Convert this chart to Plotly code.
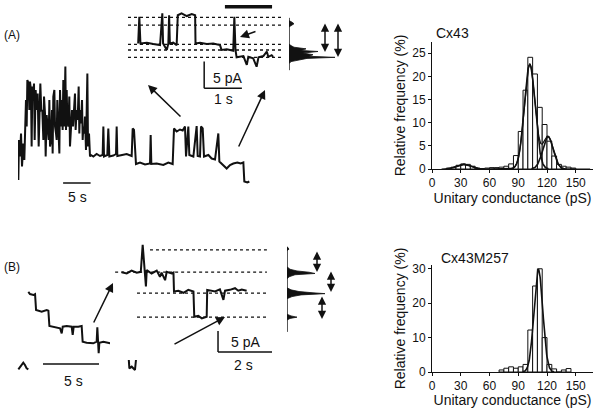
"""
Cx43 / Cx43M257 single-channel recordings and conductance histograms
"""
import numpy as np
import plotly.graph_objs as go

# ---- conductance histograms (bin centres in pS, % of events) ----
bins_cx43 = [17.5, 22.5, 27.5, 32.5, 37.5, 42.5, 47.5, 52.5, 57.5, 62.5, 67.5, 72.5, 77.5, 82.5,
             87.5, 92.5, 97.5, 102.5, 107.5, 112.5, 117.5, 122.5, 127.5, 132.5, 137.5, 142.5, 147.5]
freq_cx43 = [0.2, 0.4, 0.8, 1.1, 1.0, 0.6, 0.2, 0.1, 0.2, 0.3, 0.3, 0.4, 0.6, 1.1,
             2.9, 8.1, 17.0, 24.1, 20.5, 13.3, 9.6, 6.0, 2.8, 1.0, 0.6, 0.4, 0.2]
# gaussian fits: (amplitude %, centre pS, sigma pS)
fits_cx43 = [(1.0, 33, 7), (22.6, 102, 5.6), (7.0, 121, 5.5)]

bins_m257 = [72.5, 77.5, 82.5, 87.5, 92.5, 97.5, 102.5, 107.5, 112.5, 117.5, 122.5, 127.5, 132.5, 137.5, 142.5]
freq_m257 = [0.6, 1.1, 1.5, 1.1, 1.5, 2.2, 12.2, 25.0, 30.0, 10.0, 2.2, 0.9, 0.0, 0.6, 1.0]
fits_m257 = [(29.8, 111, 4.6)]

cond_ticks = [0, 30, 60, 90, 120, 150]

# ---- panel A, long recording (s, pA) ----
a_t = [0.06, 0.18, 0.36, 0.55, 0.73, 0.97, 1.15, 1.45, 1.58, 1.70, 1.94, 2.06, 2.18, 2.36, 2.48, 2.61,
       2.79, 2.91, 3.03, 3.21, 3.39, 3.58, 3.76, 3.88, 4.06, 4.24, 4.42, 4.61, 4.73, 4.91, 5.03, 5.21,
       5.39, 5.58, 5.70, 5.82, 6.00, 6.18, 6.30, 6.42, 6.61, 6.73, 6.91, 7.03, 7.15, 7.33, 7.52, 7.64,
       7.82, 7.94, 8.12, 8.24, 8.42, 8.61, 8.73, 8.85, 8.97, 9.15, 9.33, 9.45, 9.64, 9.82, 10.00, 10.18,
       10.36, 10.48, 10.67, 10.85, 11.03, 11.15, 11.27, 11.45, 11.64, 11.76, 11.88, 12.06, 12.18, 12.36,
       12.48, 12.61, 12.73, 12.91, 13.09, 13.27,
       13.70, 14.30, 14.91, 15.39, 15.52, 15.64, 16.24, 16.42, 16.61, 17.33, 17.82, 17.94, 18.06, 18.85,
       19.76, 20.67, 20.85, 21.09, 21.27, 21.45, 22.18, 23.09, 24.00, 24.12, 24.24, 25.21, 26.42, 27.33,
       28.12, 28.36, 28.85, 29.45, 29.94, 30.36, 30.55, 30.97, 31.15, 31.88, 32.48, 32.67, 33.09, 33.27,
       33.58, 33.82, 34.61, 35.21, 35.82, 36.42, 36.61, 37.33, 37.94, 38.55, 39.15, 39.88, 40.48, 40.97,
       41.15, 41.70, 42.06]
a_i = [2.0, 10.0, 6.7, 11.3, 4.7, 9.3, 6.0, 18.0, 12.7, 22.0, 21.3, 16.0, 21.7, 20.0, 8.7, 20.7,
       19.3, 21.3, 10.0, 20.0, 16.0, 19.3, 8.7, 15.3, 21.3, 15.7, 16.0, 10.0, 18.7, 15.3, 6.7, 15.0,
       11.3, 10.0, 18.0, 8.7, 10.0, 16.0, 7.3, 18.7, 20.0, 12.7, 11.3, 10.0, 18.0, 14.0, 7.3, 20.0,
       12.7, 18.0, 12.0, 22.0, 12.7, 24.7, 12.0, 20.0, 14.0, 12.7, 18.7, 8.7, 13.3, 16.0, 12.7, 16.7,
       19.3, 12.0, 16.0, 14.0, 20.7, 11.3, 16.0, 13.3, 18.0, 10.0, 12.7, 11.3, 14.7, 8.0,
       17.3, 23.3, 8.7, 11.3, 6.7, 7.0,
       6.7, 7.2, 6.8, 7.0, 12.7, 6.7, 7.0, 12.3, 6.7, 6.9, 7.2, 12.7, 6.8, 7.0,
       7.2, 6.8, 12.3, 12.0, 6.7, 5.2, 5.5, 5.1, 5.3, 11.0, 5.2, 5.3, 5.0, 5.5,
       5.2, 12.3, 11.7, 12.1, 11.9, 12.7, 6.7, 12.7, 7.0, 6.7, 12.8, 6.8, 6.7, 12.7,
       12.3, 6.7, 7.0, 6.3, 6.1, 11.3, 5.7, 5.0, 4.3, 5.0, 5.3, 5.5, 5.3, 5.5,
       1.7, 1.5, 1.7]

# ---- panel A, expanded segment (s, pA) ----
ai_t = [0.27, 0.30, 0.33, 0.50, 0.67, 0.85, 0.91, 0.93, 1.03, 1.07, 1.09, 1.11, 1.20, 1.29, 1.32, 1.42,
        1.56, 1.69, 1.78, 1.79, 1.91, 2.09, 2.26, 2.44, 2.48, 2.62, 2.79, 2.82, 2.85, 2.88, 3.06, 3.15,
        3.19, 3.32, 3.41, 3.46, 3.59, 3.68, 3.72, 3.81, 3.85]
ai_i = [10.6, 15.6, 10.6, 10.75, 10.5, 10.3, 16.25, 10.6, 9.4, 10.6, 15.9, 10.6, 10.75, 10.3, 15.9, 16.25,
        15.75, 16.1, 15.9, 10.6, 10.75, 10.5, 10.6, 10.3, 9.4, 9.5, 9.25, 15.6, 9.4, 8.0, 8.25, 6.6,
        8.1, 7.8, 6.25, 8.0, 8.25, 9.1, 8.1, 8.4, 8.1]
ai_levels = [15.5, 14.06, 10.44, 9.38, 8.0]
# all-points amplitude histogram (pA, counts)
ah_i = [5.6, 6.8, 7.2, 7.5, 7.8, 8.0, 8.2, 8.5, 8.8, 9.1, 9.3, 9.6, 9.9, 10.2, 10.5, 13.7, 14.0, 14.3, 14.6, 14.9, 15.4]
ah_n = [0, 0, 2, 10, 18, 46, 20, 24, 14, 29, 12, 17, 5, 2, 0, 0, 3, 5, 3, 0, 0]

# ---- panel B, long recording (s, pA) ----
b_t = [0.30, 0.45, 0.60, 0.74, 0.89, 1.04, 1.19, None,
       1.19, 1.34, 1.64, 1.79, 1.88, 2.08, 2.38, 2.83, 2.98, 3.07, 3.42, 4.02, 4.17, 4.26, 4.61, 5.06,
       5.15, 5.24, 5.65, 5.95, 6.04, 6.40, 6.99, 7.29, 7.35, 7.41, 7.47, 7.53, 7.89, 8.48, 8.93, 9.08,
       9.52, 10.12, 10.21, 10.42, 10.71, 10.86, 11.46, 12.05, 12.65, 13.24, 13.84, 14.14, 14.35]
b_i = [1.77, 2.6, 3.44, 3.85, 3.13, 2.08, 1.77, None,
       26.0, 25.3, 25.0, 25.3, 20.3, 20.1, 19.8, 20.3, 20.1, 15.3, 15.1, 14.6, 13.0, 15.1, 15.3, 15.1,
       12.5, 15.1, 15.1, 15.3, 10.4, 10.1, 9.9, 10.4, 14.9, 9.9, 6.8, 10.1, 10.4, 9.9, 10.1, 6.6,
       6.25, 6.8, 2.08, 2.6, 1.56, 6.8, 7.0, 6.6, 7.3, 6.8, 7.0, 6.25, 6.8]

# ---- panel B, expanded segment (s, pA) ----
bi_t = [0.43, 0.62, 0.80, 0.99, 1.14, 1.17, 1.21, 1.23, 1.26, 1.30, 1.33, 1.36, 1.54, 1.73, 1.85, 1.91,
        2.04, 2.10, 2.28, 2.35, 2.37, 2.53, 2.72, 2.90, 3.06, 3.09, 3.12, 3.27, 3.40, 3.52, 3.58, 3.60,
        3.70, 3.89, 4.07, 4.20, 4.26, 4.44, 4.63, 4.75, 4.88, 5.06]
bi_i = [20.9, 20.6, 21.3, 20.8, 21.0, 24.6, 27.4, 25.8, 23.8, 20.9, 17.5, 21.4, 20.6, 21.3, 19.8, 20.8,
        19.0, 21.0, 20.6, 20.8, 16.3, 16.5, 16.0, 16.7, 16.3, 16.3, 10.3, 10.5, 9.9, 10.2, 10.3, 16.7,
        16.5, 16.3, 16.8, 14.3, 16.5, 16.7, 17.1, 16.5, 16.8, 16.5]
bi_levels = [26.2, 20.9, 15.9, 10.2]
bi_level_start = [1.48, 0.19, 1.0, 1.0]
bh_i = [6.7, 9.5, 9.9, 10.2, 10.5, 10.9, 14.6, 15.1, 15.5, 15.8, 16.0, 16.3, 16.7, 17.2,
        19.3, 19.8, 20.3, 20.6, 20.9, 21.2, 21.6, 22.2, 26.0, 26.4, 27.0]
bh_n = [0, 0, 3, 10, 4, 0, 0, 5, 14, 38, 26, 12, 4, 0,
        0, 2, 8, 28, 22, 10, 3, 0, 0, 2, 0]

FONT = "Liberation Sans, Arial, sans-serif"
INK = "#111111"


def px(x):
    return x / 600


def py(y):
    return 1 - y / 408


fig = go.Figure()

# Histogrammes de conductance + ajustements gaussiens
for k, (bins, freq, fits) in enumerate([(bins_cx43, freq_cx43, fits_cx43), (bins_m257, freq_m257, fits_m257)]):
    xa = 'x' if k == 0 else 'x2'
    ya = 'y' if k == 0 else 'y2'
    fig.add_trace(go.Bar(x=bins, y=freq, width=5, xaxis=xa, yaxis=ya,
                         marker=dict(color='white', line=dict(color=INK, width=1))))
    g = np.linspace(10, 165, 500)
    for a, c, s in fits:
        curve = a * np.exp(-0.5 * ((g - c) / s) ** 2)
        mask = curve > 0.05
        fig.add_trace(go.Scatter(x=g[mask], y=curve[mask], mode='lines', xaxis=xa, yaxis=ya,
                                 line=dict(color=INK, width=1.6)))
    if len(fits) > 1:
        total = sum(a * np.exp(-0.5 * ((g - c) / s) ** 2) for a, c, s in fits)
        fig.add_trace(go.Scatter(x=g, y=total, mode='lines', xaxis=xa, yaxis=ya,
                                 line=dict(color=INK, width=1.2)))

# Enregistrements
trace_line = dict(color=INK, width=2)
fig.add_trace(go.Scatter(x=a_t, y=a_i, mode='lines', xaxis='x3', yaxis='y3', line=trace_line))
fig.add_trace(go.Scatter(x=ai_t, y=ai_i, mode='lines', xaxis='x4', yaxis='y4', line=trace_line))
fig.add_trace(go.Scatter(x=ah_n, y=ah_i, mode='lines', xaxis='x5', yaxis='y5', fill='tozerox',
                         fillcolor=INK, line=dict(color=INK, width=0.8)))
fig.add_trace(go.Scatter(x=b_t, y=b_i, mode='lines', xaxis='x6', yaxis='y6', line=trace_line,
                         connectgaps=False))
fig.add_trace(go.Scatter(x=bi_t, y=bi_i, mode='lines', xaxis='x7', yaxis='y7', line=trace_line))
fig.add_trace(go.Scatter(x=bh_n, y=bh_i, mode='lines', xaxis='x8', yaxis='y8', fill='tozerox',
                         fillcolor=INK, line=dict(color=INK, width=0.8)))

shapes = []
# niveaux de courant (pointillés)
for lv in ai_levels:
    shapes.append(dict(type='line', xref='x4', yref='y4', x0=0.0, x1=4.12, y0=lv, y1=lv,
                       line=dict(color=INK, width=1.3, dash='dot')))
for lv, st in zip(bi_levels, bi_level_start):
    shapes.append(dict(type='line', xref='x7', yref='y7', x0=st, x1=5.81, y0=lv, y1=lv,
                       line=dict(color=INK, width=1.3, dash='dot')))
# axes des histogrammes d'amplitude
shapes.append(dict(type='line', xref='x5', yref='y5', x0=0, x1=0, y0=5.6, y1=15.4, line=dict(color=INK, width=1)))
shapes.append(dict(type='line', xref='x8', yref='y8', x0=0, x1=0, y0=6.7, y1=26.9, line=dict(color=INK, width=1)))
# barres d'échelle
bar = dict(color=INK, width=1.5)
shapes += [
    dict(type='line', xref='x3', yref='y3', x0=8.2, x1=13.2, y0=1.4, y1=1.4, line=bar),
    dict(type='line', xref='x4', yref='y4', x0=2.02, x1=2.02, y0=2.2, y1=7.2, line=bar),
    dict(type='line', xref='x4', yref='y4', x0=2.02, x1=3.02, y0=2.2, y1=2.2, line=bar),
    dict(type='line', xref='x6', yref='y6', x0=2.5, x1=7.5, y0=3.4, y1=3.4, line=bar),
    dict(type='line', xref='x7', yref='y7', x0=4.0, x1=4.0, y0=1.9, y1=6.9, line=bar),
    dict(type='line', xref='x7', yref='y7', x0=4.0, x1=6.0, y0=1.9, y1=1.9, line=bar),
    dict(type='line', xref='x4', yref='y4', x0=2.57, x1=3.82, y0=17.5, y1=17.5, line=dict(color=INK, width=3.5)),
]

tick_txt = dict(family=FONT, size=12, color=INK)
title_txt = dict(family=FONT, size=14, color=INK)
annotations = []
for s, x, y, size in [("(A)", 12, 35, 12), ("(B)", 12, 267, 12), ("5 pA", 227, 78, 14), ("1 s", 223, 99, 14),
                      ("5 s", 77, 197, 14), ("5 s", 73, 381, 14), ("5 pA", 246, 342, 14), ("2 s", 243, 365, 14),
                      ("Cx43", 452, 33, 14), ("Cx43M257", 475, 258, 14)]:
    annotations.append(dict(text=s, x=px(x), y=py(y), xref='paper', yref='paper', showarrow=False,
                            font=dict(family=FONT, size=size, color=INK),
                            xanchor='center', yanchor='middle'))

# flèches simples (queue -> pointe)
for tx, ty, hx, hy in [(182, 118, 148, 85), (238, 148, 265, 90), (257, 31, 240, 37),
                       (93, 324, 113, 283), (173, 345, 225, 317)]:
    annotations.append(dict(text='', x=px(hx), y=py(hy), xref='paper', yref='paper',
                            ax=tx - hx, ay=ty - hy, showarrow=True, arrowhead=2, arrowsize=1.2,
                            arrowwidth=1.5, arrowcolor=INK))
# flèches doubles
for x, y0, y1 in [(325, 22, 52), (338, 22, 57), (317, 250, 272), (331, 270, 292), (322, 295, 319)]:
    annotations.append(dict(text='', x=px(x), y=py(y1), xref='paper', yref='paper',
                            ax=0, ay=y0 - y1, showarrow=True, arrowhead=2, startarrowhead=2,
                            arrowside='end+start', arrowsize=1.1, startarrowsize=1.1,
                            arrowwidth=1.5, arrowcolor=INK))

hist_x = dict(range=[0, 168], tickvals=cond_ticks, showline=True, linecolor=INK, linewidth=1,
              ticks='outside', ticklen=3, tickcolor=INK, showgrid=False, zeroline=False,
              automargin=False, tickfont=tick_txt,
              title=dict(text='Unitary conductance (pS)', font=title_txt, standoff=1))
hist_y = dict(showline=True, linecolor=INK, linewidth=1, ticks='outside', ticklen=3, tickcolor=INK,
              showgrid=False, zeroline=False, automargin=False, tickfont=tick_txt,
              title=dict(text='Relative frequency (%)', font=title_txt, standoff=3))
hidden = dict(visible=False, showgrid=False, zeroline=False, fixedrange=True, automargin=False)

fig.update_layout(
    width=600, height=408, margin=dict(l=0, r=0, t=0, b=0, autoexpand=False),
    paper_bgcolor='white', plot_bgcolor='white', showlegend=False,
    font=dict(family=FONT, color=INK),
    xaxis=dict(hist_x, domain=[px(432), px(593)], anchor='y'),
    yaxis=dict(hist_y, domain=[py(169), py(42)], range=[0, 27.4], tickvals=[0, 5, 10, 15, 20, 25], anchor='x'),
    xaxis2=dict(hist_x, domain=[px(432), px(593)], anchor='y2'),
    yaxis2=dict(hist_y, domain=[py(372), py(265)], range=[0, 31.1], tickvals=[0, 10, 20, 30], anchor='x2'),
    xaxis3=dict(hidden, domain=[px(18), px(250)], range=[0, 42.18], anchor='y3'),
    yaxis3=dict(hidden, domain=[py(190), py(60)], range=[0, 26], anchor='x3'),
    xaxis4=dict(hidden, domain=[px(128), px(283)], range=[0, 4.11], anchor='y4'),
    yaxis4=dict(hidden, domain=[py(100), py(5)], range=[0, 17.82], anchor='x4'),
    xaxis5=dict(hidden, domain=[px(289), px(340)], range=[0, 51], anchor='y5'),
    yaxis5=dict(hidden, domain=[py(100), py(5)], range=[0, 17.82], anchor='x5'),
    xaxis6=dict(hidden, domain=[px(15), px(180)], range=[0, 14.73], anchor='y6'),
    yaxis6=dict(hidden, domain=[py(375), py(280)], range=[0, 29.69], anchor='x6'),
    xaxis7=dict(hidden, domain=[px(110), px(275)], range=[0, 6.11], anchor='y7'),
    yaxis7=dict(hidden, domain=[py(360), py(240)], range=[0, 28.57], anchor='x7'),
    xaxis8=dict(hidden, domain=[px(287), px(330)], range=[0, 43], anchor='y8'),
    yaxis8=dict(hidden, domain=[py(360), py(240)], range=[0, 28.57], anchor='x8'),
    shapes=shapes, annotations=annotations,
)

# la page a une marge de 8 px par défaut : on la retire pour caler la figure à 600x408
fig.write_html("out.html", config={'displayModeBar': False},
               post_script="document.body.style.margin = '0px';")
